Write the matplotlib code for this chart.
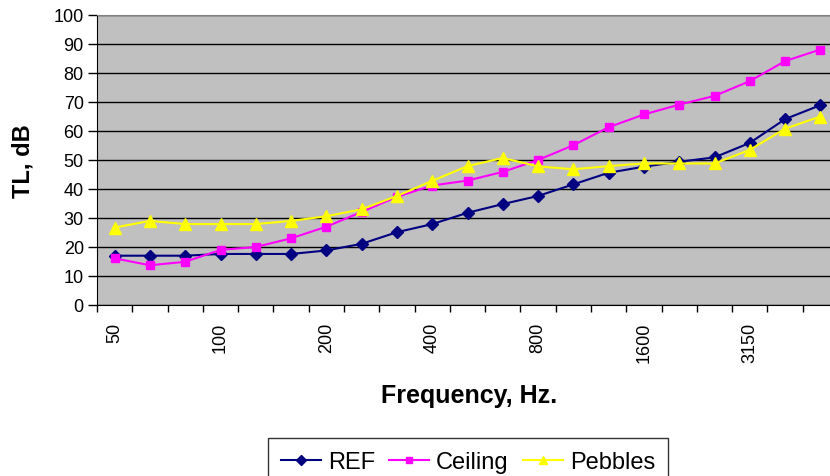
import matplotlib
matplotlib.use('Agg')
import matplotlib.pyplot as plt
import numpy as np

freqs = ['50', '63', '80', '100', '125', '160', '200', '250', '315', '400', '500',
         '630', '800', '1000', '1250', '1600', '2000', '2500', '3150', '4000', '5000']
ref = [17, 17, 17, 17.6, 17.6, 17.6, 18.8, 21.1, 25.1, 27.9, 31.8,
       34.8, 37.6, 41.6, 45.6, 47.7, 49.4, 50.9, 55.9, 64.1, 68.9]
ceiling = [16.1, 13.7, 14.9, 19.0, 20.0, 23.0, 27.0, 32.1, 37.3, 41.2, 42.9,
           45.9, 50.0, 55.1, 61.3, 65.7, 69.1, 72.1, 77.2, 84.1, 88.1]
pebbles = [26.7, 29.0, 27.9, 27.9, 27.9, 29.0, 30.6, 33.0, 37.6, 42.8, 47.9,
           50.7, 47.8, 46.8, 47.9, 48.8, 48.8, 48.8, 53.5, 60.8, 65.0]
shown = [0, 3, 6, 9, 12, 15, 18]

plt.rcParams['font.family'] = ['Liberation Sans', 'DejaVu Sans']

fig = plt.figure(figsize=(8.3, 4.77), dpi=100)
# plot area runs a little past the right edge, like the original
ax = fig.add_axes([97/830, 1-306/477, 741/830, 290/477])
ax.set_facecolor('#c0c0c0')

x = np.arange(len(freqs))
ax.plot(x, ref, color='#000080', marker='D', ms=6, lw=1.5, label='REF', zorder=3)
ax.plot(x, ceiling, color='#ff00ff', marker='s', ms=6, lw=1.5, label='Ceiling', zorder=3)
ax.plot(x, pebbles, color='#ffff00', marker='^', ms=8, lw=1.5, label='Pebbles', zorder=3)

ax.set_ylim(0, 100)
ax.set_yticks(range(0, 101, 10))
ax.set_xlim(-0.5, len(freqs)-0.5)
ax.set_xticks(shown)
ax.set_xticklabels([freqs[i] for i in shown], rotation=90, fontsize=13)
ax.set_xticks(np.arange(-0.5, len(freqs)), minor=True)
ax.tick_params(axis='x', which='major', length=0, pad=12)
ax.tick_params(axis='x', which='minor', length=5, width=1, direction='out')
ax.tick_params(axis='y', length=6.5, width=1, labelsize=13, pad=3)
ax.yaxis.grid(True, color='black', lw=1)
ax.set_axisbelow(True)

ax.spines['top'].set_color('#808080')
ax.spines['right'].set_color('#808080')

fig.text(23/830, 1-161/477, 'TL, dB', rotation=90, fontsize=17, fontweight='bold',
         ha='center', va='center')
fig.text(469/830, 1-396/477, 'Frequency, Hz.', fontsize=18, fontweight='bold',
         ha='center', va='center')

leg = fig.legend(loc='upper center', bbox_to_anchor=(468/830, 1-439/477), ncol=3,
                 fontsize=17, frameon=True, fancybox=False, edgecolor='black',
                 handlelength=1.7, handletextpad=0.3, columnspacing=0.6,
                 borderpad=0.55, borderaxespad=0, markerscale=0.8)
leg.get_frame().set_linewidth(1)

fig.savefig('out.png', dpi=100)
